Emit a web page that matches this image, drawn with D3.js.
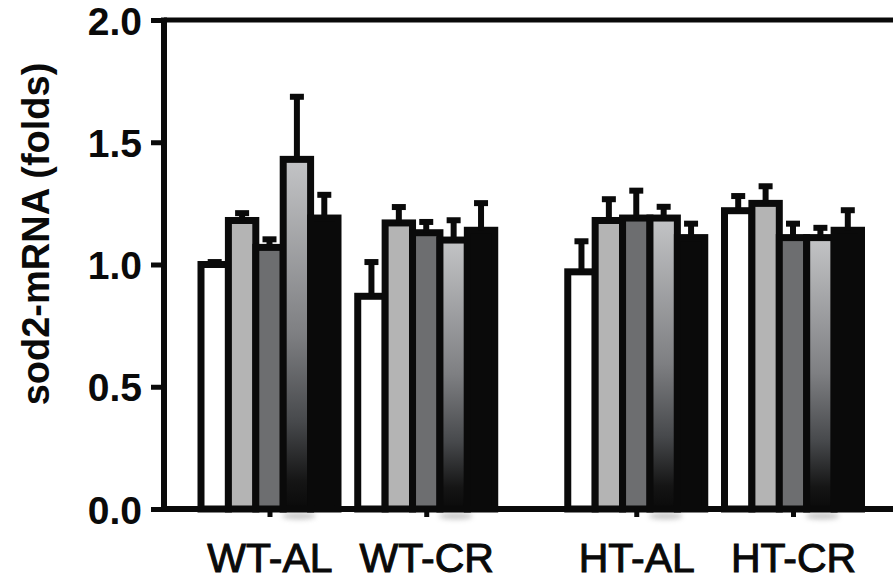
<!DOCTYPE html>
<html>
<head>
<meta charset="utf-8">
<script src="https://cdn.jsdelivr.net/npm/d3@7/dist/d3.min.js"></script>
<style>
  html, body { margin: 0; padding: 0; background: #fff; }
  svg { display: block; }
  text { font-family: "Liberation Sans", Arial, Helvetica, sans-serif; fill: #0a0a0a; }
</style>
</head>
<body>
<svg id="chart" width="893" height="585"></svg>
<script>
// ---- data ----
const groups = ["WT-AL", "WT-CR", "HT-AL", "HT-CR"];
const series = ["S1", "S2", "S3", "S4", "S5"];
const valuesS1 = [1.00, 0.87, 0.97, 1.22];
const valuesS2 = [1.18, 1.17, 1.18, 1.25];
const valuesS3 = [1.07, 1.13, 1.19, 1.11];
const valuesS4 = [1.43, 1.10, 1.19, 1.11];
const valuesS5 = [1.19, 1.14, 1.11, 1.14];
const errorsS1 = [0.01, 0.14, 0.125, 0.06];
const errorsS2 = [0.03, 0.065, 0.087, 0.07];
const errorsS3 = [0.033, 0.044, 0.112, 0.057];
const errorsS4 = [0.256, 0.081, 0.046, 0.04];
const errorsS5 = [0.095, 0.111, 0.057, 0.082];
const yTicks = [0.0, 0.5, 1.0, 1.5, 2.0];
const yTitle = "sod2-mRNA (folds)";

const allValues = [valuesS1, valuesS2, valuesS3, valuesS4, valuesS5];
const allErrors = [errorsS1, errorsS2, errorsS3, errorsS4, errorsS5];

// ---- layout ----
const W = 893, H = 585;
const axisX = 164, baseY = 509, topY = 20;
const svg = d3.select("#chart");
svg.append("rect").attr("width", W).attr("height", H).attr("fill", "#fff");

const defs = svg.append("defs");
const grad = defs.append("linearGradient").attr("id", "g4")
  .attr("x1", 0).attr("y1", 0).attr("x2", 0).attr("y2", 1);
[[0, "#c3c4c6"], [0.5, "#7e7f82"], [0.75, "#47494c"], [0.92, "#151515"], [1, "#0a0a0a"]]
  .forEach(([o, c]) => grad.append("stop").attr("offset", o).attr("stop-color", c));
const blur = defs.append("filter").attr("id", "blur").attr("x", -0.5).attr("y", -1).attr("width", 2).attr("height", 3);
blur.append("feGaussianBlur").attr("stdDeviation", 2.5);

const fills = ["#ffffff", "#b4b4b4", "#6d6e70", "url(#g4)", "#0a0a0a"];

const y = d3.scaleLinear().domain([0, 2]).range([baseY, topY]);
// group slots: second pair separated by an extra gap
const slot = groups.map((g, i) => i + (i >= 2 ? 0.34 : 0));
const xPos = d3.scaleLinear().domain([0, 3.34]).range([269.5, 793]);
const xGroup = d3.scaleOrdinal().domain(groups).range(slot.map(s => xPos(s)));
const xInner = d3.scaleBand().domain(series).range([-68.5, 68.5]).padding(0);

const ink = "#0a0a0a";

// soft shadows under gradient bars
const gShadow = svg.append("g");
groups.forEach((g, gi) => {
  const cx = xGroup(g) + xInner("S4") + xInner.bandwidth() / 2;
  gShadow.append("ellipse").attr("cx", cx + 2).attr("cy", baseY + 7)
    .attr("rx", 17).attr("ry", 3.5).attr("fill", "#b8b8b8").attr("opacity", 0.75)
    .attr("filter", "url(#blur)");
});

// bars
const gBars = svg.append("g");
groups.forEach((g, gi) => {
  const gx = xGroup(g);
  series.forEach((s, si) => {
    const v = allValues[si][gi];
    gBars.append("rect")
      .attr("x", gx + xInner(s))
      .attr("y", y(v))
      .attr("width", xInner.bandwidth())
      .attr("height", baseY - y(v))
      .attr("fill", fills[si])
      .attr("stroke", ink)
      .attr("stroke-width", 7);
  });
});

// error bars
const gErr = svg.append("g");
groups.forEach((g, gi) => {
  const gx = xGroup(g);
  series.forEach((s, si) => {
    const v = allValues[si][gi], e = allErrors[si][gi];
    const cx = gx + xInner(s) + xInner.bandwidth() / 2;
    gErr.append("line").attr("x1", cx).attr("x2", cx)
      .attr("y1", y(v)).attr("y2", y(v + e))
      .attr("stroke", ink).attr("stroke-width", 6);
    gErr.append("line").attr("x1", cx - 7).attr("x2", cx + 7)
      .attr("y1", y(v + e)).attr("y2", y(v + e))
      .attr("stroke", ink).attr("stroke-width", 6);
  });
});

// frame lines
svg.append("line").attr("x1", axisX).attr("x2", W).attr("y1", topY).attr("y2", topY)
  .attr("stroke", ink).attr("stroke-width", 5);
svg.append("line").attr("x1", axisX).attr("x2", W).attr("y1", baseY).attr("y2", baseY)
  .attr("stroke", ink).attr("stroke-width", 6);

// y axis
const yAxis = svg.append("g").attr("transform", `translate(${axisX},0)`)
  .call(d3.axisLeft(y).tickValues(yTicks).tickFormat(d3.format(".1f"))
    .tickSize(13).tickSizeOuter(0).tickPadding(9));
yAxis.select(".domain").attr("stroke", ink).attr("stroke-width", 6)
  .attr("d", `M0,${topY - 2.5}V${baseY + 3}`);
yAxis.selectAll(".tick line").attr("stroke", ink).attr("stroke-width", 5);
yAxis.selectAll(".tick text").attr("font-size", 39).attr("font-weight", "bold")
  .attr("font-family", "'Liberation Sans', Arial, sans-serif").attr("fill", ink)
  .attr("dy", "0.36em");

// x axis
const xAxis = svg.append("g").attr("transform", `translate(0,${baseY})`)
  .call(d3.axisBottom(xGroup).tickSize(8).tickPadding(26));
xAxis.select(".domain").remove();
xAxis.selectAll(".tick line").attr("stroke", ink).attr("stroke-width", 5);
xAxis.selectAll(".tick text").attr("font-size", 41).attr("font-weight", "normal")
  .attr("font-family", "'Liberation Sans', Arial, sans-serif").attr("fill", ink)
  .attr("stroke", ink).attr("stroke-width", 1)
  .attr("dy", "0.71em");

// y title
svg.append("text")
  .attr("transform", `translate(49,234) rotate(-90)`)
  .attr("text-anchor", "middle")
  .attr("font-size", 38).attr("font-weight", "bold")
  .text(yTitle);
</script>
</body>
</html>
